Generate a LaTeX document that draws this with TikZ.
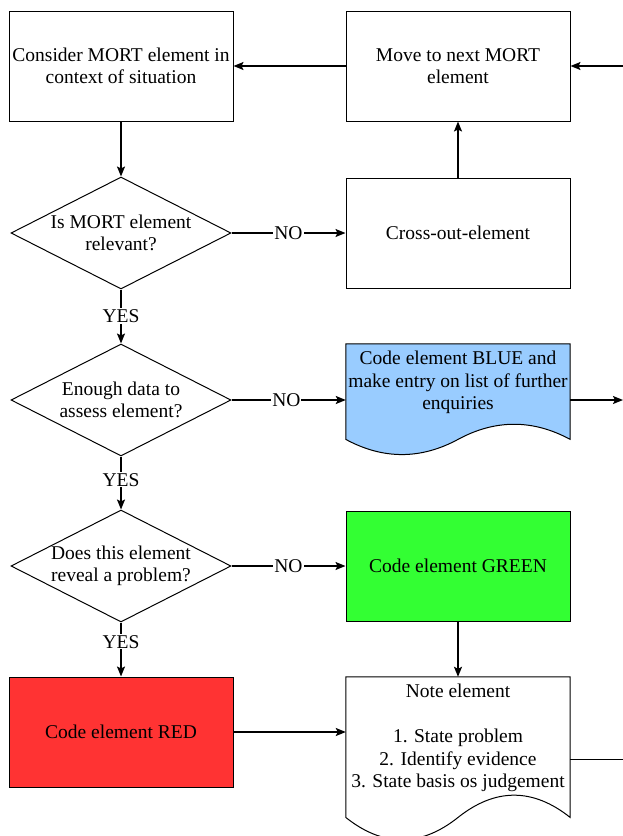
\documentclass[tikz,border=0pt]{standalone}
\usepackage{fontspec}
\setmainfont{Liberation Serif}
\usetikzlibrary{shapes.geometric,arrows.meta}
\begin{document}
\begin{tikzpicture}[x=1pt,y=-1pt,
  every node/.style={font=\fontsize{19.5}{22.5}\selectfont, align=center},
  box/.style={draw, line width=1pt, minimum width=224pt, minimum height=110pt, inner sep=0pt},
  dia/.style={draw, diamond, line width=1pt, minimum width=220pt, minimum height=112pt, inner sep=0pt},
  doc/.style={minimum width=224pt, inner sep=0pt},
  conn/.style={line width=1.5pt, -{Stealth[length=10pt,width=8pt,inset=2pt]}},
  lbl/.style={fill=white, inner sep=1pt}
]
\useasboundingbox (0,0) rectangle (623,836);
\clip (0,0) rectangle (623,836);
\definecolor{docblue}{HTML}{99CCFF}
\definecolor{codegreen}{HTML}{33FF33}
\definecolor{codered}{HTML}{FF3333}

% boxes
\node[box] (consider) at (121,66) {Consider MORT element in\\context of situation};
\node[box] (move) at (458,66) {Move to next MORT\\element};
\node[box] (cross) at (458,233) {Cross-out-element};
\node[dia] (d1) at (121,233) {};
\node at (d1) {Is MORT element\\relevant?};
\node[dia] (d2) at (121,400) {};
\node at (d2) {Enough data to\\assess element?};
\node[dia] (d3) at (121,566) {};
\node at (d3) {Does this element\\reveal a problem?};
\node[box, fill=codegreen] (green) at (458,566) {Code element GREEN};
\node[box, fill=codered] (red) at (121,732) {Code element RED};

% blue document (h=112, dy=33.6)
\node[doc, minimum height=112pt] (blue) at (458,400) {};
\fill[docblue, draw=black, line width=1pt]
  (blue.north west) -- (blue.north east) -- ([yshift=16.8pt]blue.south east)
  .. controls ([xshift=-37.3pt,yshift=37pt]blue.south east) and ([xshift=37.3pt,yshift=37pt]blue.south) .. ([yshift=16.8pt]blue.south)
  .. controls ([xshift=-37.3pt,yshift=-3.4pt]blue.south) and ([xshift=37.3pt,yshift=-3.4pt]blue.south west) .. ([yshift=16.8pt]blue.south west) -- cycle;
\node[anchor=north] at ([yshift=-4pt]blue.north) {Code element BLUE and\\make entry on list of further\\enquiries};

% note document (h=165, dy=49.5)
\node[doc, minimum height=165pt] (note) at (458,759.5) {};
\draw[line width=1pt]
  (note.north west) -- (note.north east) -- ([yshift=24.75pt]note.south east)
  .. controls ([xshift=-37.3pt,yshift=54.45pt]note.south east) and ([xshift=37.3pt,yshift=54.45pt]note.south) .. ([yshift=24.75pt]note.south)
  .. controls ([xshift=-37.3pt,yshift=-4.95pt]note.south) and ([xshift=37.3pt,yshift=-4.95pt]note.south west) .. ([yshift=24.75pt]note.south west) -- cycle;
\node[anchor=north] at ([yshift=-4pt]note.north) {Note element\\[22.5pt]1. State problem\\2. Identify evidence\\3. State basis os judgement};

% free ends
\coordinate (inR) at (623,66);
\coordinate (outB) at (623,400);
\coordinate (outN) at (623,759.5);

% connectors
\draw[conn] (inR) -- (move.east);
\draw[conn] (move.west) -- (consider.east);
\draw[conn] (consider.south) -- (d1.north);
\draw[conn] (d1.east) -- node[lbl, pos=0.5] {NO} (cross.west);
\draw[conn] (cross.north) -- (move.south);
\draw[conn] (d1.south) -- node[lbl, pos=0.49] {YES} (d2.north);
\draw[conn] (d2.east) -- node[lbl, pos=0.48] {NO} (blue.west);
\draw[conn] (blue.east) -- (outB);
\draw[conn] (d2.south) -- node[lbl, pos=0.44] {YES} (d3.north);
\draw[conn] (d3.east) -- node[lbl, pos=0.5] {NO} (green.west);
\draw[conn] (d3.south) -- node[lbl, pos=0.36] {YES} (red.north);
\draw[conn] (green.south) -- (note.north);
\draw[conn] (red.east) -- (red.east -| note.west);
\draw[line width=1.5pt] (note.east) -- (outN);
\end{tikzpicture}
\end{document}
